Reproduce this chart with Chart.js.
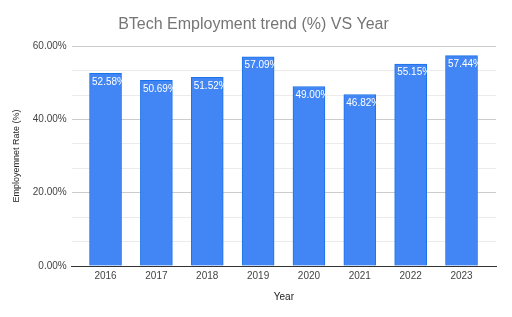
<!DOCTYPE html>
<html>
<head>
<meta charset="utf-8">
<script src="https://cdn.jsdelivr.net/npm/chart.js@4.4.0/dist/chart.umd.min.js"></script>
<style>
  html, body { margin: 0; padding: 0; background: #fff; }
  #wrap { width: 512px; height: 317px; position: relative; }
</style>
</head>
<body>
<div id="wrap"><canvas id="chart"></canvas></div>
<script>
const years = [2016, 2017, 2018, 2019, 2020, 2021, 2022, 2023];
const rates = [52.58, 50.69, 51.52, 57.09, 49.00, 46.82, 55.15, 57.44];
const yTickLabels = ['0.00%', '20.00%', '40.00%', '60.00%'];

const isMajor = v => Math.abs(v / 20 - Math.round(v / 20)) < 0.001;

// white value labels inside the top of each bar
const barLabels = {
    id: 'barLabels',
    afterDatasetsDraw(chart) {
        const ctx = chart.ctx;
        const meta = chart.getDatasetMeta(0);
        ctx.save();
        ctx.fillStyle = '#ffffff';
        ctx.font = '10px Arial, "Liberation Sans", sans-serif';
        ctx.textAlign = 'left';
        ctx.textBaseline = 'middle';
        meta.data.forEach((bar, i) => {
            const left = bar.x - bar.width / 2;
            ctx.fillText(rates[i].toFixed(2) + '%', left + 2.5, bar.y + 8.5);
        });
        ctx.restore();
    }
};

new Chart(document.getElementById('chart').getContext('2d'), {
    type: 'bar',
    data: {
        datasets: [{
            data: years.map((y, i) => ({ x: y, y: rates[i] })),
            backgroundColor: '#4285f4',
            borderColor: '#1a73e8',
            borderWidth: 1,
            barThickness: 32
        }]
    },
    options: {
        responsive: true,
        maintainAspectRatio: false,
        animation: false,
        layout: { padding: { left: 11, right: 16, top: 0, bottom: 14 } },
        plugins: {
            legend: { display: false },
            tooltip: { enabled: false },
            title: {
                display: true,
                text: 'BTech Employment trend (%) VS Year',
                color: '#757575',
                font: { family: 'Arial, "Liberation Sans", sans-serif', size: 16, weight: 'normal' },
                padding: { top: 15, bottom: 12 }
            }
        },
        scales: {
            x: {
                type: 'linear',
                offset: false,
                min: 2015.335,
                max: 2023.678,
                afterBuildTicks(scale) {
                    scale.ticks = years.map(v => ({ value: v }));
                },
                ticks: {
                    color: '#444',
                    font: { family: 'Arial, "Liberation Sans", sans-serif', size: 10 },
                    padding: 4,
                    callback: v => String(v)
                },
                grid: { display: false, drawTicks: false },
                border: { display: true, color: '#333', width: 1 },
                title: {
                    display: true,
                    text: 'Year',
                    color: '#222',
                    font: { family: 'Arial, "Liberation Sans", sans-serif', size: 10 },
                    padding: { top: 5, bottom: 0 }
                }
            },
            y: {
                min: 0,
                max: 60,
                ticks: {
                    stepSize: 20 / 3,
                    color: '#444',
                    font: { family: 'Arial, "Liberation Sans", sans-serif', size: 10 },
                    padding: 5,
                    callback: v => isMajor(v) ? yTickLabels[Math.round(v / 20)] : ''
                },
                grid: {
                    drawTicks: false,
                    color: c => isMajor(c.tick.value) ? '#cccccc' : '#ebebeb'
                },
                border: { display: false },
                title: {
                    display: true,
                    text: 'Employemnet Rate (%)',
                    color: '#222',
                    font: { family: 'Arial, "Liberation Sans", sans-serif', size: 9 },
                    padding: { top: 0, bottom: 6 }
                }
            }
        }
    },
    plugins: [barLabels]
});
</script>
</body>
</html>
